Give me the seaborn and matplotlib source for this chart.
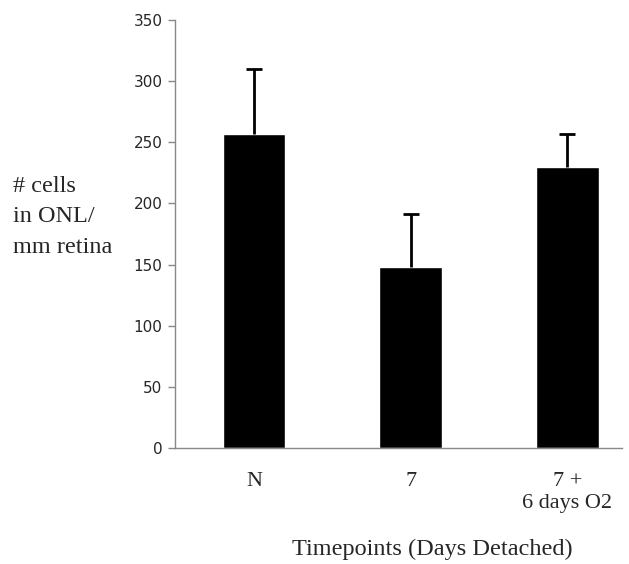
import numpy as np
import matplotlib
matplotlib.use("Agg")
import matplotlib.pyplot as plt
import seaborn as sns
import pandas as pd

# data
groups = ["N", "7", "7 +\n6 days O2"]
cells = [257, 148, 230]
err_up = [53, 43, 27]

sns.set_style("white")
plt.rcParams['font.family'] = ['DejaVu Sans']

df = pd.DataFrame({"group": groups, "cells": cells})

fig = plt.figure(figsize=(6.29, 5.64), dpi=100)
ax = fig.add_axes([0.278, 0.2057, 0.711, 0.7588])

sns.barplot(data=df, x="group", y="cells", color="black", width=0.40,
            saturation=1, ax=ax)
# upper error bars only
_, caps, _ = ax.errorbar(range(len(groups)), cells,
                         yerr=[np.zeros(len(err_up)), err_up],
                         fmt="none", ecolor="black", elinewidth=2,
                         capsize=6, capthick=2)
caps[0].set_visible(False)

ax.set_ylim(0, 350)
ax.set_xlim(-0.505, 2.35)
ax.set_yticks(np.arange(0, 351, 50))
ax.tick_params(axis="y", left=True, length=5, width=1, color="#888888",
               labelsize=11, pad=4)
ax.tick_params(axis="x", bottom=False, pad=14)
for lab in ax.get_xticklabels():
    lab.set_family("Liberation Serif")
    lab.set_fontsize(16)

for side in ["top", "right"]:
    ax.spines[side].set_visible(False)
for side in ["left", "bottom"]:
    ax.spines[side].set_color("#888888")
    ax.spines[side].set_linewidth(1)

ax.set_xlabel("Timepoints (Days Detached)", family="Liberation Serif", fontsize=17.5)
ax.xaxis.set_label_coords(0.575, -0.236)
ax.xaxis.label.set_va("center")

ax.set_ylabel("# cells\nin ONL/\nmm retina", family="Liberation Serif", fontsize=17.5,
              rotation=0, ha="left", va="center", multialignment="left",
              linespacing=1.6)
ax.yaxis.set_label_coords(-0.362, 0.54)

fig.savefig("out.png", dpi=100)
